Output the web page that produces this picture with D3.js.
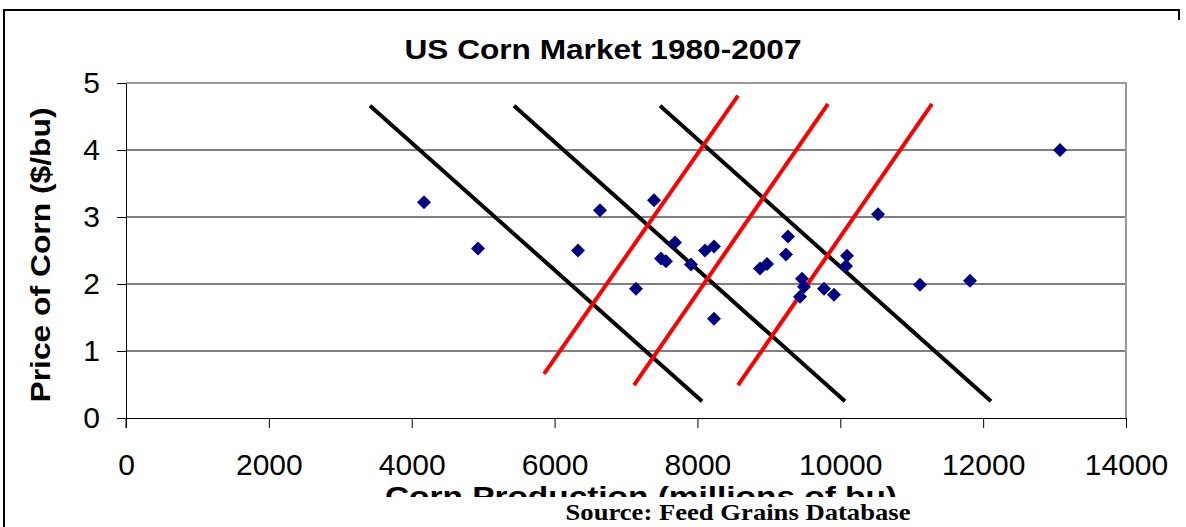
<!DOCTYPE html>
<html>
<head>
<meta charset="utf-8">
<script src="https://cdn.jsdelivr.net/npm/d3@7"></script>
<style>
  html, body { margin: 0; padding: 0; background: #fff; }
  svg { display: block; }
</style>
</head>
<body>
<svg id="chart" width="1186" height="527"></svg>
<script>
// ---- Data ----
const production = [4172, 4928, 6328, 6636, 7392, 7140, 7490, 7560, 7686, 7910,
                    8106, 8232, 8232, 8876, 8974, 9240, 9268, 9464, 9492, 9436,
                    9772, 9912, 10094, 10080, 10528, 11116, 11816, 13076];
const price      = [3.22, 2.53, 2.50, 3.10, 3.25, 1.93, 2.38, 2.34, 2.62, 2.29,
                    2.50, 2.56, 1.48, 2.23, 2.30, 2.44, 2.71, 2.08, 1.96, 1.81,
                    1.93, 1.84, 2.42, 2.27, 3.04, 1.99, 2.05, 4.00];
// demand (black) and supply (red) lines: [x1, y1, x2, y2]
const demandLines = [[3416, 4.66, 8064, 0.25],
                     [5432, 4.66, 10066, 0.25],
                     [7476, 4.66, 12110, 0.25]];
const supplyLines = [[5852, 0.66, 8568, 4.81],
                     [7112, 0.49, 9828, 4.69],
                     [8568, 0.49, 11284, 4.69]];
const xTicks = [0, 2000, 4000, 6000, 8000, 10000, 12000, 14000];
const yTicks = [0, 1, 2, 3, 4, 5];
const titleText = "US Corn Market 1980-2007";
const xTitleText = "Corn Production (millions of bu)";
const yTitleText = "Price of Corn ($/bu)";
const sourceText = "Source: Feed Grains Database";

// ---- Layout ----
const svg = d3.select("#chart");
const plot = { left: 126, right: 1126, top: 83, bottom: 418 };
const x = d3.scaleLinear().domain([0, 14000]).range([plot.left, plot.right]);
const y = d3.scaleLinear().domain([0, 5]).range([plot.bottom, plot.top]);

// outer frame
svg.append("path")
  .attr("d", "M4,527 L4,10 L1179,10 L1179,20")
  .attr("fill", "none").attr("stroke", "#000").attr("stroke-width", 2);

// title
svg.append("text")
  .attr("x", 603).attr("y", 59)
  .attr("text-anchor", "middle")
  .attr("font-family", "Liberation Sans, Arial, sans-serif")
  .attr("font-weight", "bold").attr("font-size", 28)
  .attr("textLength", 397).attr("lengthAdjust", "spacingAndGlyphs")
  .text(titleText);

// gridlines
svg.append("g").selectAll("line")
  .data(yTicks.filter(d => d > 0 && d < 5))
  .join("line")
  .attr("x1", plot.left).attr("x2", plot.right)
  .attr("y1", d => y(d)).attr("y2", d => y(d))
  .attr("stroke", "#000").attr("stroke-width", 1);

// plot border (gray top/right)
svg.append("path")
  .attr("d", `M${plot.left},${y(5)} L${plot.right},${y(5)} L${plot.right},${plot.bottom}`)
  .attr("fill", "none").attr("stroke", "#999").attr("stroke-width", 2);

const tickFont = "Liberation Sans, Arial, sans-serif";

// y axis
const yAxis = svg.append("g")
  .attr("transform", `translate(${plot.left},0)`)
  .call(d3.axisLeft(y).tickValues(yTicks).tickFormat(d3.format("d"))
        .tickSizeInner(9).tickSizeOuter(0).tickPadding(17));
yAxis.selectAll("text").attr("font-family", tickFont).attr("font-size", 30).attr("fill", "#000");
yAxis.selectAll("line").attr("stroke", "#000");
yAxis.select(".domain").attr("stroke", "#000");

// x axis
const xAxis = svg.append("g")
  .attr("transform", `translate(0,${plot.bottom})`)
  .call(d3.axisBottom(x).tickValues(xTicks).tickFormat(d3.format("d"))
        .tickSizeInner(10).tickSizeOuter(0).tickPadding(26));
xAxis.selectAll("text").attr("font-family", tickFont).attr("font-size", 30).attr("fill", "#000");
xAxis.selectAll("line").attr("stroke", "#000");
xAxis.select(".domain").attr("stroke", "#000");
// extend y axis line below the x axis a little
svg.append("line")
  .attr("x1", plot.left).attr("x2", plot.left)
  .attr("y1", plot.bottom).attr("y2", plot.bottom + 10)
  .attr("stroke", "#000");

// y title
svg.append("text")
  .attr("transform", `translate(50,255) rotate(-90)`)
  .attr("text-anchor", "middle")
  .attr("font-family", "Liberation Sans, Arial, sans-serif")
  .attr("font-weight", "bold").attr("font-size", 28)
  .attr("textLength", 295).attr("lengthAdjust", "spacingAndGlyphs")
  .text(yTitleText);

// x title (partly hidden by the source box)
svg.append("text")
  .attr("x", 641).attr("y", 506)
  .attr("text-anchor", "middle")
  .attr("font-family", "Liberation Sans, Arial, sans-serif")
  .attr("font-weight", "bold").attr("font-size", 28)
  .attr("textLength", 512).attr("lengthAdjust", "spacingAndGlyphs")
  .text(xTitleText);

// source box
svg.append("rect")
  .attr("x", 360).attr("y", 497).attr("width", 818).attr("height", 30)
  .attr("fill", "#fff");
svg.append("text")
  .attr("x", 738).attr("y", 520)
  .attr("text-anchor", "middle")
  .attr("font-family", "Liberation Serif, Times New Roman, serif")
  .attr("font-weight", "bold").attr("font-size", 24)
  .attr("textLength", 345).attr("lengthAdjust", "spacingAndGlyphs")
  .text(sourceText);

// demand & supply lines
const lines = svg.append("g");
lines.selectAll("line.demand").data(demandLines).join("line")
  .attr("class", "demand")
  .attr("x1", d => x(d[0])).attr("y1", d => y(d[1]))
  .attr("x2", d => x(d[2])).attr("y2", d => y(d[3]))
  .attr("stroke", "#000").attr("stroke-width", 4);
lines.selectAll("line.supply").data(supplyLines).join("line")
  .attr("class", "supply")
  .attr("x1", d => x(d[0])).attr("y1", d => y(d[1]))
  .attr("x2", d => x(d[2])).attr("y2", d => y(d[3]))
  .attr("stroke", "#ff0000").attr("stroke-width", 4);

// points
const pts = production.map((p, i) => ({ p, v: price[i] }));
const diamond = d3.symbol().type(d3.symbolSquare).size(98);
svg.append("g").selectAll("path")
  .data(pts).join("path")
  .attr("d", diamond)
  .attr("transform", d => `translate(${x(d.p)},${y(d.v)}) rotate(45)`)
  .attr("fill", "#000080");
</script>
</body>
</html>
